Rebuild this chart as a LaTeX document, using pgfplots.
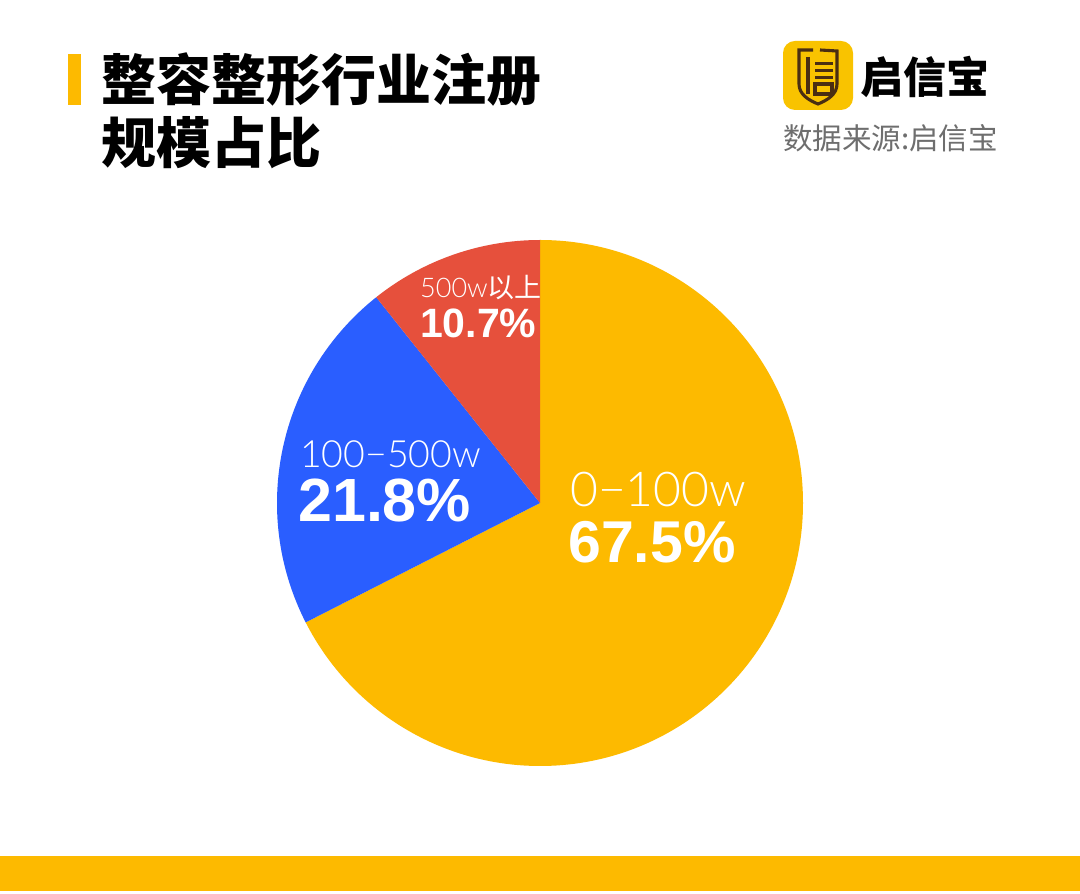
\documentclass[border=0pt]{standalone}
\usepackage{fontspec}
\usepackage{pgfplots}
\usepackage{pgfplotstable}
\pgfplotsset{compat=1.18}
\setmainfont{Liberation Sans}
\newfontfamily\cjk{Noto Sans CJK SC}
\newfontfamily\lightfont{Lato Light}
\definecolor{pieyellow}{HTML}{FDBA00}
\definecolor{pieblue}{HTML}{2A5EFF}
\definecolor{piered}{HTML}{E6503C}
\definecolor{logoyellow}{HTML}{F9C300}
\definecolor{logobrown}{HTML}{4A2E12}
\definecolor{srcgrey}{HTML}{6E6E6E}

\pgfplotstableread{
label value
0-100w 67.5
100-500w 21.8
500w+ 10.7
}\piedata

\pgfplotstablegetelem{0}{value}\of\piedata \let\vA\pgfplotsretval
\pgfplotstablegetelem{1}{value}\of\piedata \let\vB\pgfplotsretval
\pgfplotstablegetelem{2}{value}\of\piedata \let\vC\pgfplotsretval
\pgfmathsetmacro\aZ{90}
\pgfmathsetmacro\aA{\aZ-3.6*\vA}
\pgfmathsetmacro\aB{\aA-3.6*\vB}
\pgfmathsetmacro\aC{\aB-3.6*\vC}

\begin{document}
\begin{tikzpicture}
\begin{scope}[x=1pt,y=-1pt,shift={(0,894pt)}]
  % background
  \fill[white] (0,0) rectangle (1080,894);
  % bottom bar
  \fill[pieyellow] (0,856) rectangle (1080,891);
  % title bar
  \fill[pieyellow] (68,54) rectangle (81,105);
  % title
  \node[anchor=base west,inner sep=0pt,font=\cjk\bfseries\fontsize{55}{60}\selectfont] at (101,101) {整容整形行业注册};
  \node[anchor=base west,inner sep=0pt,font=\cjk\bfseries\fontsize{55}{60}\selectfont] at (101,164) {规模占比};
  % logo
  \fill[logoyellow,rounded corners=12pt] (783,41) rectangle (853,110);
  \begin{scope}[draw=logobrown,line width=3.1pt,line cap=butt,line join=miter]
    \draw (813,50) -- (799,50) -- (799,84) .. controls (799,94) and (808,100) .. (818,104)
          .. controls (828,100) and (837,94) .. (837,84) -- (837,51) -- (820,50);
    \draw (808,57) -- (808,94);
    \draw (815,63.5) -- (833,63.5);
    \draw (815,70.5) -- (833,70.5);
    \draw (815,77.5) -- (833,77.5);
    \draw (815,84) rectangle (832,94);
  \end{scope}
  \node[anchor=base west,inner sep=0pt,font=\cjk\bfseries\fontsize{43}{48}\selectfont] at (860,94) {启信宝};
  \node[anchor=base west,inner sep=0pt,text=srcgrey,font=\cjk\fontsize{29.5}{32}\selectfont] at (783,150) {数据来源:启信宝};
\end{scope}

\begin{axis}[
  at={(277pt,128pt)}, anchor=south west,
  scale only axis, width=526pt, height=526pt,
  xmin=-1, xmax=1, ymin=-1, ymax=1,
  hide axis, clip=false]
  \fill[pieyellow] (axis cs:0,0) -- (axis cs:{cos(\aZ)},{sin(\aZ)}) arc[start angle=\aZ, end angle=\aA, radius=263pt] -- cycle;
  \fill[pieblue] (axis cs:0,0) -- (axis cs:{cos(\aA)},{sin(\aA)}) arc[start angle=\aA, end angle=\aB, radius=263pt] -- cycle;
  \fill[piered] (axis cs:0,0) -- (axis cs:{cos(\aB)},{sin(\aB)}) arc[start angle=\aB, end angle=\aC, radius=263pt] -- cycle;
\end{axis}

\begin{scope}[x=1pt,y=-1pt,shift={(0,894pt)}]
  \node[anchor=base west,inner sep=0pt,text=white,font=\lightfont\fontsize{27}{30}\selectfont] at (420,298) {500w{\cjk 以上}};
  \node[anchor=base west,inner sep=0pt,text=white,font=\bfseries\fontsize{41}{44}\selectfont] at (420,338) {10.7\%};
  \node[anchor=base west,inner sep=0pt,text=white,font=\lightfont\fontsize{37.5}{42}\selectfont] at (300,468) {100−500w};
  \node[anchor=base west,inner sep=0pt,text=white,font=\bfseries\fontsize{61}{64}\selectfont] at (298,522) {21.8\%};
  \node[anchor=base west,inner sep=0pt,text=white,font=\lightfont\fontsize{48}{52}\selectfont] at (570,507) {0−100w};
  \node[anchor=base west,inner sep=0pt,text=white,font=\bfseries\fontsize{59}{62}\selectfont] at (568,563) {67.5\%};
\end{scope}
\end{tikzpicture}
\end{document}
